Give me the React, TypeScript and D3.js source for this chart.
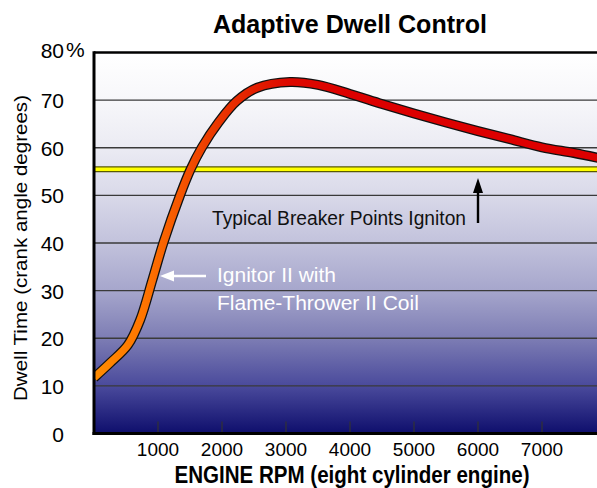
import React from 'react'
import * as d3 from 'd3'

// chart values
const rpm = [0, 250, 530, 720, 911, 1083, 1344, 1510, 1683, 1950, 2230, 2550, 3060, 3500, 4000, 4500, 5000, 5500, 6000, 6500, 7000, 7500, 7900]
const dwell = [11.7, 14.8, 18.6, 23.8, 32.2, 40, 50, 55.5, 60, 65.4, 69.8, 72.6, 73.8, 73.2, 71.3, 69.2, 67.2, 65.3, 63.5, 61.8, 60.1, 58.9, 57.8]
const breakerDwell = 55.5
const yTicks = [0, 10, 20, 30, 40, 50, 60, 70]
const xTicks = [1000, 2000, 3000, 4000, 5000, 6000, 7000]
const bgStops = [
  { v: 80, c: '#ffffff' },
  { v: 70, c: '#f7f7fa' },
  { v: 60, c: '#ebebf3' },
  { v: 50, c: '#d9d9e9' },
  { v: 40, c: '#c2c2dc' },
  { v: 30, c: '#a6a6cc' },
  { v: 20, c: '#7d7db4' },
  { v: 10, c: '#4a4a9c' },
  { v: 0, c: '#0e0e6c' },
]

const W = 597
const H = 488
const sans = 'Liberation Sans, Arial, sans-serif'
const narrow = 'Liberation Sans Narrow, Arial Narrow, sans-serif'

export default function App() {
  const x = d3.scaleLinear().domain([0, 8000]).range([94, 606])
  const y = d3.scaleLinear().domain([0, 80]).range([433.5, 52.5])

  const line = d3.line<number>()
    .x((d, i) => x(rpm[i]))
    .y(d => y(d))
    .curve(d3.curveCatmullRom.alpha(0.5))
  const path = line(dwell) || ''

  const left = x(0)
  const top = y(80)
  const bottom = y(0)

  return (
    <svg width={W} height={H} style={{ position: 'absolute', left: 0, top: 0 }}>
      <defs>
        <linearGradient id="bg" gradientUnits="userSpaceOnUse" x1="0" x2="0" y1={top} y2={bottom}>
          {bgStops.map(s => (
            <stop key={s.v} offset={(y(s.v) - top) / (bottom - top)} stopColor={s.c} />
          ))}
        </linearGradient>
        <linearGradient id="curve" gradientUnits="userSpaceOnUse" x1={x(0)} x2={x(4000)} y1="0" y2="0">
          <stop offset="0" stopColor="#ff8c00" />
          <stop offset="0.2" stopColor="#ff7400" />
          <stop offset="0.45" stopColor="#ec3c00" />
          <stop offset="0.75" stopColor="#dd0a00" />
          <stop offset="1" stopColor="#dd0000" />
        </linearGradient>
        <clipPath id="plot">
          <rect x={left} y={top} width={W - left} height={bottom - top} />
        </clipPath>
      </defs>

      <rect width={W} height={H} fill="#fff" />
      <rect x={left} y={top} width={W - left} height={bottom - top} fill="url(#bg)" />

      {yTicks.filter(t => t > 0).map(t => (
        <line key={t} x1={left} x2={W} y1={y(t)} y2={y(t)} stroke="#3a3a3a" strokeWidth={1.4} />
      ))}

      {xTicks.map(t => (
        <line key={t} x1={x(t)} x2={x(t)} y1={bottom} y2={bottom - 12} stroke="#333" strokeWidth={1.2} />
      ))}

      {/* breaker points reference line */}
      <line x1={left} x2={W} y1={y(breakerDwell)} y2={y(breakerDwell)} stroke="#5a5a00" strokeWidth={6} />
      <line x1={left} x2={W} y1={y(breakerDwell)} y2={y(breakerDwell)} stroke="#ffff00" strokeWidth={3.6} />

      <g clipPath="url(#plot)">
        <path d={path} fill="none" stroke="#111" strokeWidth={10} strokeLinejoin="round" />
        <path d={path} fill="none" stroke="url(#curve)" strokeWidth={7.4} strokeLinejoin="round" />
      </g>

      {/* frame */}
      <line x1={left} x2={W} y1={top} y2={top} stroke="#000" strokeWidth={2.6} />
      <line x1={left} x2={left} y1={top - 1.3} y2={bottom + 1.5} stroke="#000" strokeWidth={3} />
      <line x1={left - 1.5} x2={W} y1={bottom} y2={bottom} stroke="#000" strokeWidth={3} />

      {/* annotations */}
      <text x={212} y={225} fontFamily={narrow} fontSize={20} textLength={254} lengthAdjust="spacingAndGlyphs" fill="#111">Typical Breaker Points Igniton</text>
      <line x1={x(6000)} x2={x(6000)} y1={223} y2={188} stroke="#000" strokeWidth={2.4} />
      <path d={`M${x(6000)},178 L${x(6000) - 5},193 L${x(6000) + 5},193 Z`} fill="#000" />

      <text x={217} y={282} fontFamily={sans} fontSize={21} fill="#fff">Ignitor II with</text>
      <text x={217} y={310} fontFamily={sans} fontSize={21} fill="#fff">Flame-Thrower II Coil</text>
      <line x1={206} x2={172} y1={276} y2={276} stroke="#fff" strokeWidth={2.4} />
      <path d="M160,276 L174,270.5 L174,281.5 Z" fill="#fff" />

      {/* y axis labels */}
      {yTicks.map(t => (
        <text key={t} x={64} y={y(t) + 8} textAnchor="end" fontFamily={sans} fontSize={21} fill="#000">{t}</text>
      ))}
      <text x={64} y={y(80) + 5} textAnchor="end" fontFamily={sans} fontSize={21} fill="#000">80</text>
      <text x={66} y={y(80) + 4} fontFamily={sans} fontSize={21} fill="#000">%</text>

      <text
        transform={`translate(27, 248) rotate(-90)`}
        textAnchor="middle"
        fontFamily={sans}
        fontSize={18}
        textLength={306}
        lengthAdjust="spacingAndGlyphs"
        fill="#000"
      >Dwell Time (crank angle degrees)</text>

      {/* x axis labels */}
      {xTicks.map(t => (
        <text key={t} x={x(t)} y={456} textAnchor="middle" fontFamily={sans} fontSize={19} fill="#000">{t}</text>
      ))}
      <text
        x={352}
        y={483}
        textAnchor="middle"
        fontFamily={narrow}
        fontWeight="bold"
        fontSize={24}
        textLength={355}
        lengthAdjust="spacingAndGlyphs"
        fill="#000"
      >ENGINE RPM (eight cylinder engine)</text>

      <text
        x={350}
        y={33}
        textAnchor="middle"
        fontFamily={narrow}
        fontWeight="bold"
        fontSize={25}
        textLength={274}
        lengthAdjust="spacingAndGlyphs"
        fill="#000"
      >Adaptive Dwell Control</text>
    </svg>
  )
}
